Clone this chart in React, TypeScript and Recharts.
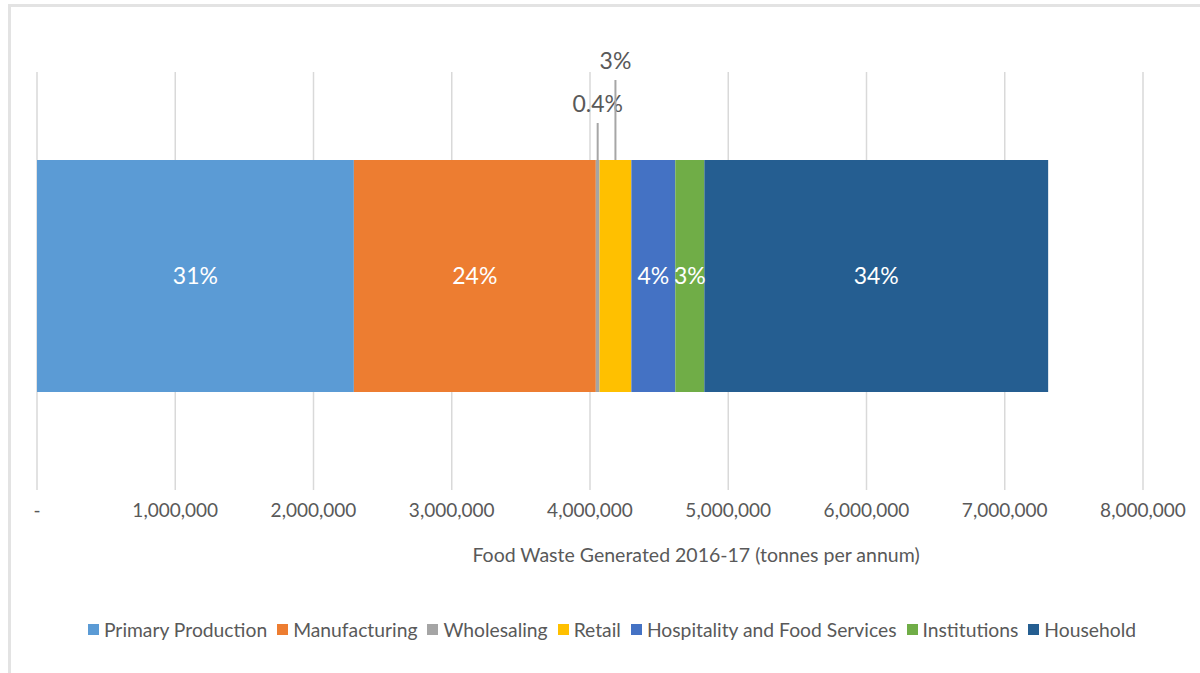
import { BarChart, Bar, XAxis, YAxis, CartesianGrid, LabelList } from 'recharts';

// Food waste by sector, tonnes per annum
const sectors = ['Primary Production', 'Manufacturing', 'Wholesaling', 'Retail', 'Hospitality and Food Services', 'Institutions', 'Household'];
const keys = ['primary', 'manufacturing', 'wholesaling', 'retail', 'hospitality', 'institutions', 'household'];
const tonnes = [2292000, 1750000, 27000, 230000, 318000, 210000, 2487000];
const shares = ['31%', '24%', '0.4%', '3%', '4%', '3%', '34%'];
const colors = ['#5B9BD5', '#ED7D31', '#A5A5A5', '#FFC000', '#4472C4', '#70AD47', '#255E91'];
const xTicks = [0, 1000000, 2000000, 3000000, 4000000, 5000000, 6000000, 7000000, 8000000];

const row: Record<string, any> = { name: 'Food waste' };
keys.forEach((k, i) => { row[k] = tonnes[i]; });
const chartData = [row];

const FONT = 'Lato, "Open Sans", sans-serif';
const GREY = '#595959';

// labels above the bar with a leader line, for the thin segments
const calloutLabel = (text: string, rise: number) => (props: any) => {
    const { x, y, width } = props;
    const cx = Number(x) + Number(width) / 2;
    const top = Number(y);
    return (
        <g>
            <line x1={cx} y1={top} x2={cx} y2={top - rise} stroke="#a6a6a6" strokeWidth={2} />
            <text x={cx} y={top - rise - 11} textAnchor="middle" fill={GREY} fontSize={23} fontFamily={FONT}>{text}</text>
        </g>
    );
};

export default function App() {
    return (
        <div style={{ position: 'absolute', left: 0, top: 0, width: 1200, height: 673, background: '#fff', overflow: 'hidden', fontFamily: FONT }}>
            <div style={{ position: 'absolute', left: 8, top: 4, width: 1300, height: 800, borderTop: '3px solid #e3e3e3', borderLeft: '3px solid #e3e3e3' }} />
            <BarChart
                width={1200}
                height={673}
                data={chartData}
                layout="vertical"
                margin={{ top: 72, right: 57, left: 37, bottom: 153 }}
                style={{ position: 'absolute', left: 0, top: 0 }}
            >
                <CartesianGrid horizontal={false} stroke="#d9d9d9" strokeWidth={1.5} />
                <XAxis
                    type="number"
                    domain={[0, 8000000]}
                    ticks={xTicks}
                    axisLine={false}
                    tickLine={false}
                    height={30}
                    tick={{ fill: GREY, fontSize: 19, fontFamily: FONT }}
                    tickFormatter={(v: number) => (v === 0 ? '-' : v.toLocaleString('en-US'))}
                    dy={6}
                />
                <YAxis type="category" dataKey="name" hide padding={{ top: 0, bottom: 10 }} />
                {keys.map((k, i) => (
                    <Bar key={k} dataKey={k} name={sectors[i]} stackId="a" fill={colors[i]} barSize={232} isAnimationActive={false}>
                        {i === 2 ? (
                            <LabelList dataKey={k} content={calloutLabel(shares[i], 37)} />
                        ) : i === 3 ? (
                            <LabelList dataKey={k} content={calloutLabel(shares[i], 80)} />
                        ) : (
                            <LabelList dataKey={k} position="center" formatter={() => shares[i]} fill="#ffffff" fontSize={23} fontFamily={FONT} />
                        )}
                    </Bar>
                ))}
            </BarChart>
            <div style={{ position: 'absolute', left: 396, top: 543, width: 600, textAlign: 'center', color: GREY, fontSize: 19.5 }}>
                Food Waste Generated 2016-17 (tonnes per annum)
            </div>
            <div style={{ position: 'absolute', left: 12, top: 618, width: 1200, display: 'flex', justifyContent: 'center', gap: 10, color: GREY, fontSize: 19.3 }}>
                {sectors.map((s, i) => (
                    <div key={s} style={{ display: 'flex', alignItems: 'center', gap: 5 }}>
                        <span style={{ width: 11, height: 11, background: colors[i], display: 'inline-block' }} />
                        <span>{s}</span>
                    </div>
                ))}
            </div>
        </div>
    );
}
